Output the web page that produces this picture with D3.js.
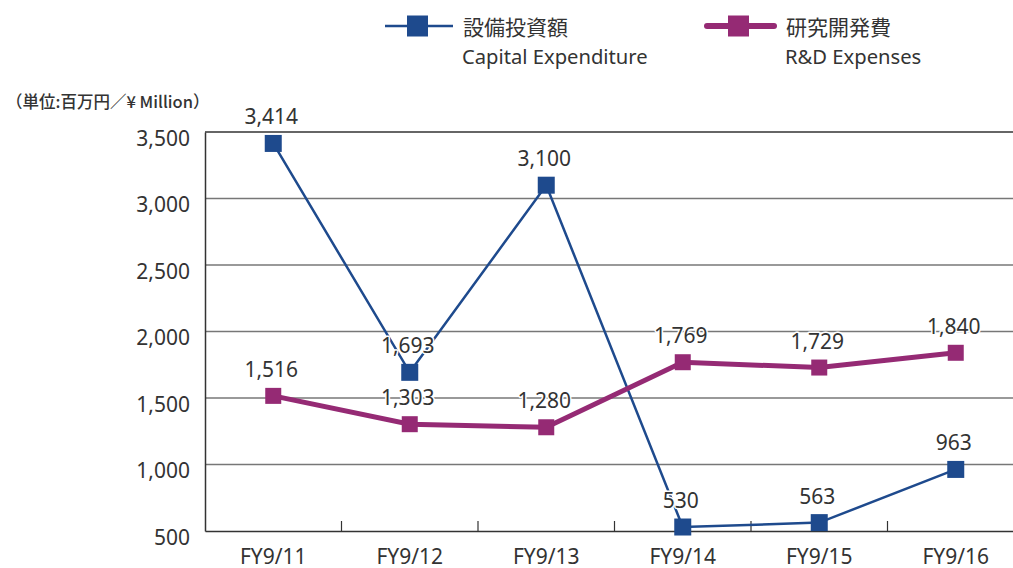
<!DOCTYPE html>
<html><head><meta charset="utf-8">
<script src="https://cdn.jsdelivr.net/npm/d3@7"></script>
<style>
html,body{margin:0;padding:0;background:#fff;}
svg{display:block;font-family:"Noto Sans","Noto Sans CJK JP",sans-serif;}
</style></head>
<body>
<svg id="c" width="1013" height="568"></svg>
<script>
const categories = ["FY9/11","FY9/12","FY9/13","FY9/14","FY9/15","FY9/16"];
const capex = [3414,1693,3100,530,563,963];
const rnd = [1516,1303,1280,1769,1729,1840];
const yTicks = [500,1000,1500,2000,2500,3000,3500];
const seriesNames = [["設備投資額","Capital Expenditure"],["研究開発費","R&D Expenses"]];
const colors = ["#1e4a8d","#952a74"];
const unitLabel = "（単位:百万円／¥ Million）";

(function(){
const svg = d3.select("#c");
const pLeft = 205, pRight = 1024, pTop = 132, pBottom = 531;
const x = d3.scaleBand().domain(categories).range([pLeft, pRight]);
const y = d3.scaleLinear().domain([500,3500]).range([pBottom, pTop]);
const fmt = d3.format(",");

// gridlines
svg.append("g").selectAll("line").data(yTicks.filter(t=>t>500)).join("line")
  .attr("x1", pLeft).attr("x2", pRight)
  .attr("y1", d=>y(d)).attr("y2", d=>y(d))
  .attr("stroke", d=> d===3500 ? "#333" : "#777")
  .attr("stroke-width", 1.5);

// y axis
const yAxis = svg.append("g").attr("transform",`translate(${pLeft},0)`)
  .call(d3.axisLeft(y).tickValues(yTicks).tickFormat(fmt).tickSize(0).tickPadding(15));
yAxis.select(".domain").attr("stroke","#333").attr("stroke-width",1.5);
yAxis.selectAll("text").attr("font-size",21).attr("fill","#333").attr("dy","0.62em")
  .attr("font-family","Noto Sans");

// x axis
const xAxis = svg.append("g").attr("transform",`translate(0,${pBottom})`)
  .call(d3.axisBottom(x).tickSize(0).tickPadding(18));
xAxis.select(".domain").attr("stroke","#333").attr("stroke-width",1.5);
xAxis.selectAll("text").attr("font-size",21).attr("fill","#333").attr("font-family","Noto Sans");
svg.append("g").selectAll("line").data(categories.slice(1)).join("line")
  .attr("x1", d=>x(d)).attr("x2", d=>x(d))
  .attr("y1", pBottom).attr("y2", pBottom-10)
  .attr("stroke","#333").attr("stroke-width",1.2);

const cx = d => x(d) + x.bandwidth()/2;
const line = d3.line().x((d,i)=>cx(categories[i])).y(d=>y(d));

function drawSeries(vals, color, lw, ms){
  const g = svg.append("g");
  g.append("path").datum(vals).attr("d", line).attr("fill","none")
    .attr("stroke", color).attr("stroke-width", lw);
  g.selectAll("rect").data(vals).join("rect")
    .attr("x",(d,i)=>cx(categories[i])-ms/2).attr("y",d=>y(d)-ms/2)
    .attr("width",ms).attr("height",ms).attr("fill",color);
}
drawSeries(capex, colors[0], 2.5, 17);
drawSeries(rnd, colors[1], 5, 16);

function labels(vals){
  svg.append("g").selectAll("text").data(vals).join("text")
    .attr("x",(d,i)=>cx(categories[i])-2).attr("y",d=>y(d)-19)
    .attr("text-anchor","middle").attr("font-size",21).attr("fill","#333")
    .attr("stroke","#fff").attr("stroke-width",3).attr("paint-order","stroke")
    .attr("stroke-linejoin","round")
    .text(d=>fmt(d));
}
labels(capex);
labels(rnd);

svg.append("text").attr("x",6).attr("y",108).attr("font-size",16.5).attr("fill","#333")
  .attr("font-family","Noto Sans CJK JP").attr("font-weight",500).text(unitLabel);

const legendX = [385, 704];
const legendW = [68, 73];
seriesNames.forEach((nm,i)=>{
  const g = svg.append("g").attr("transform",`translate(${legendX[i]},26)`);
  g.append("line").attr("x1", i===0?0:3).attr("x2", i===0?legendW[i]:legendW[i]-3).attr("y1",0).attr("y2",0)
    .attr("stroke",colors[i]).attr("stroke-width", i===0?2.5:6).attr("stroke-linecap", i===0?"butt":"round");
  const ms = 21;
  g.append("rect").attr("x",(i===0?22:24)).attr("y",-ms/2).attr("width",ms).attr("height",ms).attr("fill",colors[i]);
  g.append("text").attr("x", i===0?78:82).attr("y",8.5).attr("font-size",21).attr("fill","#333")
    .attr("font-family","Noto Sans CJK JP").text(nm[0]);
  g.append("text").attr("x", i===0?77:81).attr("y",38).attr("font-size",20.2).attr("fill","#333")
    .attr("font-family","Noto Sans").text(nm[1]);
});
})();
</script>
</body></html>
